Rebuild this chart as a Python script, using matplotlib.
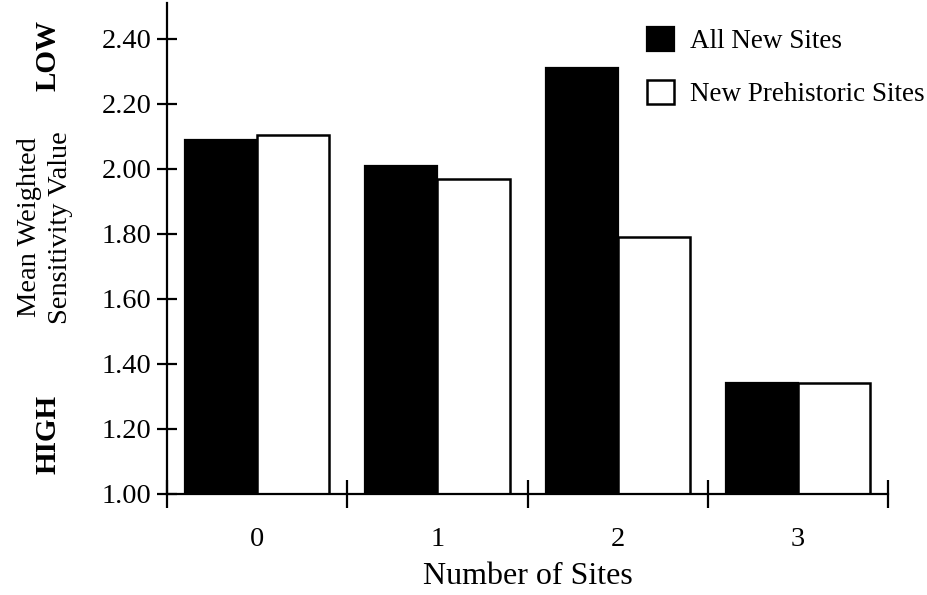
"""Mean weighted sensitivity value by number of sites (grouped bars)."""

import matplotlib
matplotlib.use("Agg")
import matplotlib.pyplot as plt
import numpy as np
from matplotlib.patches import Patch
from matplotlib.ticker import FixedLocator, NullFormatter

categories = ["0", "1", "2", "3"]
all_new_sites = [2.09, 2.01, 2.31, 1.34]
new_prehistoric_sites = [2.105, 1.97, 1.79, 1.34]
y_ticks = [1.00, 1.20, 1.40, 1.60, 1.80, 2.00, 2.20, 2.40]

plt.rcParams.update({"font.family": ["Liberation Serif", "DejaVu Serif"]})

fig = plt.figure(figsize=(9.28, 5.95), dpi=100)
ax = fig.add_axes([0.18, 0.17, 0.777, 0.825])

x = np.arange(len(categories))
w = 0.4
ax.bar(x - w / 2, np.array(all_new_sites) - 1.0, w, bottom=1.0,
       color="black", edgecolor="black", linewidth=1.6)
ax.bar(x + w / 2, np.array(new_prehistoric_sites) - 1.0, w, bottom=1.0,
       color="white", edgecolor="black", linewidth=1.8)

ax.set_xlim(-0.5, len(categories) - 0.5)
ax.set_ylim(1.0, 2.51)

for side in ("top", "right"):
    ax.spines[side].set_visible(False)
for side in ("left", "bottom"):
    ax.spines[side].set_linewidth(1.6)

ax.set_yticks(y_ticks)
ax.set_yticklabels([f"{v:.2f}" for v in y_ticks])
ax.tick_params(axis="y", direction="inout", length=14, width=1.6,
               labelsize=20.5, pad=4)

# major x ticks mark group boundaries, minor ticks carry the labels
ax.xaxis.set_major_locator(FixedLocator(np.arange(-0.5, len(categories), 1.0)))
ax.xaxis.set_major_formatter(NullFormatter())
ax.xaxis.set_minor_locator(FixedLocator(x))
ax.set_xticklabels(categories, minor=True)
ax.tick_params(axis="x", which="major", direction="inout", length=20, width=1.6)
ax.tick_params(axis="x", which="minor", length=0, labelsize=20.5, pad=24)

ax.set_xlabel("Number of Sites", fontsize=23, labelpad=7)

fig.text(0.032, 0.618, "Mean Weighted", rotation=90, fontsize=20.5,
         ha="center", va="center")
fig.text(0.065, 0.618, "Sensitivity Value", rotation=90, fontsize=20.5,
         ha="center", va="center")
fig.text(0.052, 0.906, "LOW", rotation=90, fontsize=21, fontweight="bold",
         ha="center", va="center")
fig.text(0.052, 0.27, "HIGH", rotation=90, fontsize=21, fontweight="bold",
         ha="center", va="center")

handles = [
    Patch(facecolor="black", edgecolor="black", linewidth=1.6, label="All New Sites"),
    Patch(facecolor="white", edgecolor="black", linewidth=1.8, label="New Prehistoric Sites"),
]
fig.legend(handles=handles, loc="upper left", bbox_to_anchor=(0.697, 0.955),
           frameon=False, fontsize=19.5, handlelength=1.0, handleheight=1.0,
           handletextpad=0.6, labelspacing=0.95, borderpad=0, borderaxespad=0)

fig.savefig("out.png", dpi=100)
